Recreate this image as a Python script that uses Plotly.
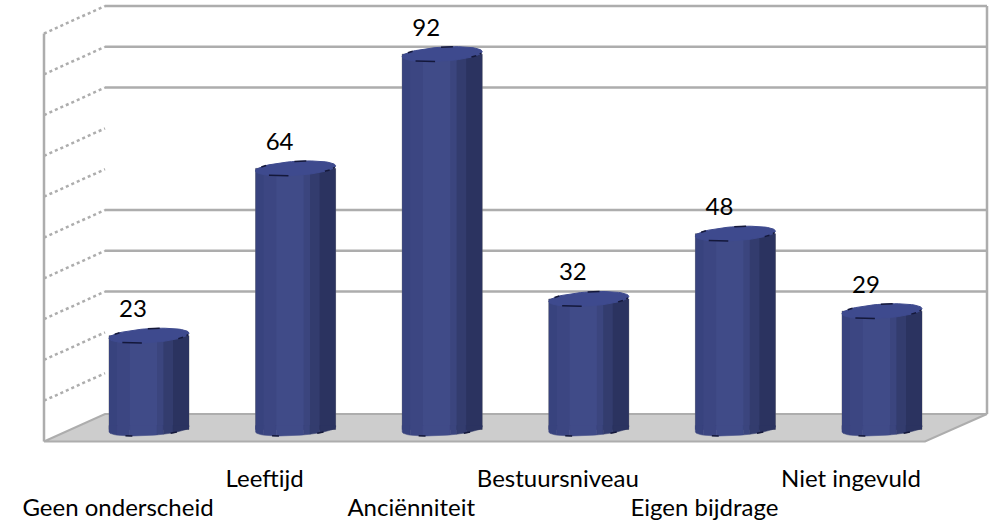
"""
3D style cylinder chart, built from shaded bar bands
"""

import math
import plotly.graph_objects as go

categories = ['Geen onderscheid', 'Leeftijd', 'Anciënniteit', 'Bestuursniveau', 'Eigen bijdrage', 'Niet ingevuld']
values = [23, 64, 92, 32, 48, 29]
back_grid = [100, 90, 80, 50, 40, 30]
side_grid = [100, 90, 80, 70, 60, 50, 40, 30, 20, 10]

# Picture scale
PX_X = 146.6
PX_Y = 4.08
ORIGIN_X = 149.0
ORIGIN_Y = 429.5
PLOT_BOTTOM = 445

GREY = '#adadad'
FONT = 'Lato'


def px_x(px):
    return (px - ORIGIN_X) / PX_X


def px_y(px):
    return (ORIGIN_Y - px) / PX_Y


BACK_L, BACK_R = px_x(105), px_x(987)
FRONT_L, FRONT_R = px_x(44), px_x(925)
BACK_0 = px_y(414)
FRONT_0 = px_y(441.5)

RX = 40 / PX_X
RY = 7.0 / PX_Y
FOOT_RY = 6.0 / PX_Y
TILT = 2.5 / PX_Y
OVERLAP = 1.0 / PX_X

# Shading across the cylinder, left to right
bands = [
    (0.00, 0.10, '#38437e'),
    (0.10, 0.26, '#3c4682'),
    (0.26, 0.60, '#404b88'),
    (0.60, 0.68, '#3b457e'),
    (0.68, 0.80, '#333c6e'),
    (0.80, 1.00, '#2b3360'),
]

fig = go.Figure()
xs = list(range(len(values)))

# Backing bar, gives the thin grey edge down the sides
fig.add_trace(go.Bar(
    x=xs, y=values, width=2 * RX,
    marker=dict(color='#2b3360', line=dict(color='rgba(120,120,120,0.55)', width=1)),
    showlegend=False, hoverinfo='skip',
))

# Cylinder body
for f0, f1, color in bands:
    grow = OVERLAP if f1 < 1 else 0
    fig.add_trace(go.Bar(
        x=[i + RX * (f0 + f1 - 1) + grow / 2 for i in xs],
        y=values,
        width=2 * RX * (f1 - f0) + grow,
        marker=dict(color=color, line=dict(width=0)),
        showlegend=False,
        hoverinfo='skip',
    ))

# Curved foot of each cylinder, one slice per band
for i in xs:
    for f0, f1, color in bands:
        foot_x, foot_y = [i + RX * (2 * f0 - 1)], [1.0]
        for k in range(9):
            c = 2 * (f0 + (f1 - f0) * k / 8) - 1
            foot_x.append(i + RX * c)
            foot_y.append(-FOOT_RY * math.sqrt(max(0, 1 - c * c)) + TILT * c)
        foot_x.append(i + RX * (2 * f1 - 1))
        foot_y.append(1.0)
        fig.add_trace(go.Scatter(
            x=foot_x, y=foot_y, mode='lines', fill='toself', fillcolor=color,
            line=dict(color=color, width=0.5),
            showlegend=False, hoverinfo='skip',
        ))

# Top caps
for i, v in enumerate(values):
    ts = [2 * math.pi * k / 60 for k in range(61)]
    fig.add_trace(go.Scatter(
        x=[i + RX * math.cos(t) for t in ts],
        y=[v + RY * math.sin(t) + TILT * math.cos(t) for t in ts],
        mode='lines',
        fill='toself',
        fillcolor='#3e4a8e',
        line=dict(color='#3e4a8e', width=1),
        showlegend=False,
        hoverinfo='skip',
    ))

# Dark flecks on the rim of the caps and the foot of the cylinders
fleck_x, fleck_y = [], []
for i, v in enumerate(values):
    for t0, t1 in [(-2.3, -1.75), (-0.75, -0.55), (-0.35, -0.2), (1.3, 1.6), (2.4, 2.6)]:
        for t in (t0, t1, None):
            fleck_x.append(None if t is None else i + RX * math.cos(t))
            fleck_y.append(None if t is None else v + RY * math.sin(t) + TILT * math.cos(t))
    for t0, t1 in [(-2.2, -2.0), (-1.0, -0.8)]:
        for t in (t0, t1, None):
            fleck_x.append(None if t is None else i + RX * math.cos(t))
            fleck_y.append(None if t is None else FOOT_RY * math.sin(t) + TILT * math.cos(t))
fig.add_trace(go.Scatter(
    x=fleck_x, y=fleck_y, mode='lines',
    line=dict(color='#14183a', width=1.5),
    showlegend=False, hoverinfo='skip',
))

# Value labels
fig.add_trace(go.Scatter(
    x=[i - 16 / PX_X for i in xs],
    y=[v + 24.5 / PX_Y for v in values],
    mode='text',
    text=[str(v) for v in values],
    textposition='middle center',
    textfont=dict(family=FONT, size=24, color='black'),
    showlegend=False,
    hoverinfo='skip',
))

# Second x axis needs a trace to carry the lower row of labels
fig.add_trace(go.Scatter(x=[0], y=[0], xaxis='x2', mode='markers', opacity=0,
                         showlegend=False, hoverinfo='skip'))

# Walls and floor
shapes = []
shapes.append(dict(
    type='path', layer='below',
    path=f'M {FRONT_L} {FRONT_0} L {BACK_L} {BACK_0} L {BACK_R} {BACK_0} L {FRONT_R} {FRONT_0} Z',
    fillcolor='#cdcdcd', line=dict(color=GREY, width=2),
))
for g in side_grid:
    shapes.append(dict(
        type='line', layer='below',
        x0=FRONT_L, y0=FRONT_0 + g, x1=BACK_L, y1=BACK_0 + g,
        line=dict(color=GREY, width=2.5, dash='dot'),
    ))
for g in back_grid:
    shapes.append(dict(
        type='line', layer='below',
        x0=BACK_L, y0=BACK_0 + g, x1=BACK_R, y1=BACK_0 + g,
        line=dict(color=GREY, width=2.5),
    ))
shapes.append(dict(type='line', layer='below', x0=FRONT_L, y0=FRONT_0, x1=FRONT_L, y1=FRONT_0 + 100,
                   line=dict(color=GREY, width=2.5)))
shapes.append(dict(type='line', layer='below', x0=BACK_R, y0=BACK_0, x1=BACK_R, y1=BACK_0 + 100,
                   line=dict(color=GREY, width=2.5)))

x_range = [px_x(0), px_x(991)]
label_x = [i + (FRONT_L + FRONT_R) / 2 - 2.5 for i in xs]

fig.update_layout(
    width=991,
    height=522,
    margin=dict(l=0, r=0, t=0, b=522 - PLOT_BOTTOM, pad=0),
    paper_bgcolor='white',
    plot_bgcolor='white',
    barmode='overlay',
    showlegend=False,
    shapes=shapes,
    font=dict(family=FONT, size=24, color='black'),
    xaxis=dict(
        range=x_range, showgrid=False, zeroline=False, ticks='',
        tickmode='array', tickvals=label_x[1::2], ticktext=categories[1::2],
        ticklabelstandoff=17,
    ),
    xaxis2=dict(
        range=x_range, overlaying='x', side='bottom', anchor='y',
        showgrid=False, zeroline=False, ticks='',
        tickmode='array', tickvals=label_x[0::2], ticktext=categories[0::2],
        ticklabelstandoff=46,
    ),
    yaxis=dict(
        range=[px_y(PLOT_BOTTOM), px_y(0)],
        showgrid=False, zeroline=False, showticklabels=False, ticks='',
    ),
)

# Drop the browser's default body margin so the page fills the window exactly
fig.write_html("out.html", config=dict(displayModeBar=False),
               post_script="document.body.style.margin='0';")
